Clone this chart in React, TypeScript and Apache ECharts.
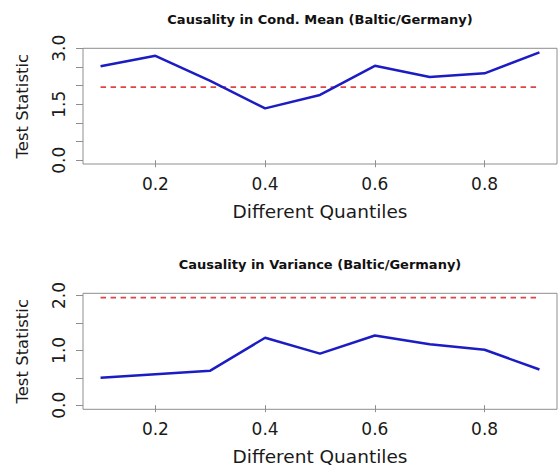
import React, { useEffect, useRef } from "react";
import * as echarts from "echarts";

const quantiles = [0.1, 0.2, 0.3, 0.4, 0.5, 0.6, 0.7, 0.8, 0.9];
const meanStat = [2.52, 2.8, 2.13, 1.39, 1.75, 2.53, 2.23, 2.33, 2.89];
const varianceStat = [0.5, 0.565, 0.63, 1.23, 0.94, 1.27, 1.11, 1.01, 0.65];
const critical = 1.96;
const xTicks = [0.2, 0.4, 0.6, 0.8];
const meanYTicks = [0, 0.5, 1, 1.5, 2, 2.5, 3];
const meanYLabels = [0, 1.5, 3];
const varYTicks = [0, 0.5, 1, 1.5, 2];
const varYLabels = [0, 1, 2];
const titles = [
  "Causality in Cond. Mean (Baltic/Germany)",
  "Causality in Variance (Baltic/Germany)",
];
const xName = "Different Quantiles";
const yName = "Test Statistic";

const FONT = "DejaVu Sans";
const GRAY = "#8e8e8e";

export default function App() {
  const ref = useRef<HTMLDivElement>(null);
  useEffect(() => {
    if (!ref.current) return;
    const chart = echarts.init(ref.current, undefined, { renderer: "svg" });
    const xAxisBase = (gridIndex: number) => ({
      type: "value",
      gridIndex,
      min: 0.068,
      max: 0.932,
      name: xName,
      nameLocation: "middle",
      nameGap: 38,
      nameTextStyle: { fontFamily: FONT, fontSize: 18.5, color: "#1a1a1a" },
      axisLine: { show: false },
      splitLine: { show: false },
      axisTick: {
        show: true,
        length: 7,
        inside: false,
        customValues: xTicks,
        lineStyle: { color: GRAY, width: 1 },
      },
      axisLabel: {
        customValues: xTicks,
        margin: 11,
        fontFamily: FONT,
        fontSize: 17,
        color: "#1a1a1a",
        formatter: (v: number) => v.toFixed(1),
      },
    });
    const yAxisBase = (
      gridIndex: number,
      min: number,
      max: number,
      ticks: number[],
      labels: number[]
    ) => ({
      type: "value",
      gridIndex,
      min,
      max,
      name: yName,
      nameLocation: "middle",
      nameGap: 52,
      nameRotate: 90,
      nameTextStyle: { fontFamily: FONT, fontSize: 16.5, color: "#1a1a1a" },
      axisLine: { show: false },
      splitLine: { show: false },
      axisTick: {
        show: true,
        length: 7,
        inside: false,
        customValues: ticks,
        lineStyle: { color: GRAY, width: 1 },
      },
      axisLabel: {
        customValues: labels,
        rotate: 90,
        margin: 16,
        fontFamily: FONT,
        fontSize: 17,
        color: "#1a1a1a",
        formatter: (v: number) => v.toFixed(1),
      },
    });
    const mainLine = (idx: number, vals: number[]) => ({
      type: "line",
      xAxisIndex: idx,
      yAxisIndex: idx,
      data: quantiles.map((q, i) => [q, vals[i]]),
      symbol: "none",
      lineStyle: { color: "#1c1cc4", width: 2.5 },
      z: 3,
    });
    const critLine = (idx: number) => ({
      type: "line",
      xAxisIndex: idx,
      yAxisIndex: idx,
      data: [
        [quantiles[0], critical],
        [quantiles[quantiles.length - 1], critical],
      ],
      symbol: "none",
      lineStyle: { color: "#de4646", width: 1.8, type: [5.5, 4.5] },
      z: 2,
    });
    chart.setOption({
      animation: false,
      backgroundColor: "#ffffff",
      title: [
        {
          text: titles[0],
          left: 320,
          top: 13,
          textAlign: "center",
          padding: 0,
          textStyle: { fontFamily: FONT, fontSize: 13, fontWeight: "bold", color: "#111" },
        },
        {
          text: titles[1],
          left: 320,
          top: 258,
          textAlign: "center",
          padding: 0,
          textStyle: { fontFamily: FONT, fontSize: 13, fontWeight: "bold", color: "#111" },
        },
      ],
      grid: [
        {
          left: 83,
          top: 48.3,
          width: 474,
          height: 115.7,
          show: true,
          borderColor: GRAY,
          borderWidth: 1,
          backgroundColor: "transparent",
          containLabel: false,
        },
        {
          left: 83,
          top: 293.3,
          width: 474,
          height: 116,
          show: true,
          borderColor: GRAY,
          borderWidth: 1,
          backgroundColor: "transparent",
          containLabel: false,
        },
      ],
      xAxis: [xAxisBase(0), xAxisBase(1)],
      yAxis: [
        yAxisBase(0, -0.1, 3.0, meanYTicks, meanYLabels),
        yAxisBase(1, -0.075, 2.04, varYTicks, varYLabels),
      ],
      series: [critLine(0), mainLine(0, meanStat), critLine(1), mainLine(1, varianceStat)],
    });
    return () => chart.dispose();
  }, []);
  return (
    <div
      ref={ref}
      style={{ position: "absolute", left: 0, top: 0, width: 559, height: 471 }}
    />
  );
}
